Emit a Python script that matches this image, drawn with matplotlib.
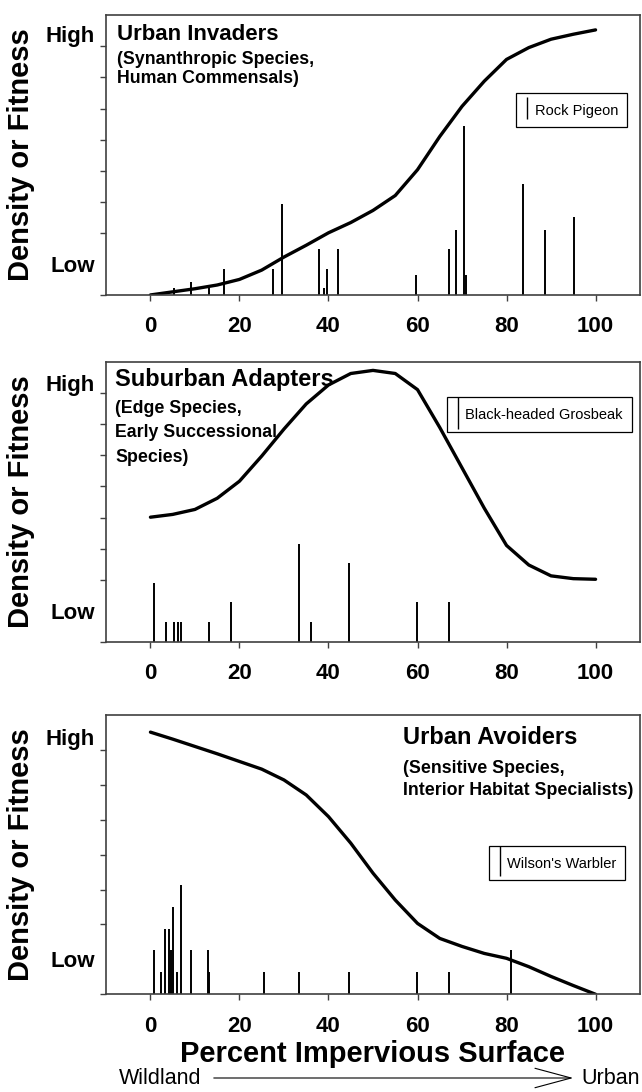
import matplotlib
matplotlib.use("Agg")
import matplotlib.pyplot as plt
from matplotlib.lines import Line2D
from matplotlib.patches import FancyArrowPatch

plt.rcParams['font.family'] = ['Liberation Sans', 'DejaVu Sans']

# percent impervious surface where the response curves were read
curve_x = [0, 5, 10, 15, 20, 25, 30, 35, 40, 45, 50, 55, 60, 65, 70, 75, 80, 85, 90, 95, 100]

invader_curve = [0, 0.1, 0.2, 0.32, 0.5, 0.8, 1.22, 1.6, 2.0, 2.33, 2.72, 3.2, 4.03,
                 5.1, 6.07, 6.88, 7.58, 7.96, 8.23, 8.39, 8.53]
adapter_curve = [4.01, 4.10, 4.26, 4.62, 5.17, 5.98, 6.85, 7.66, 8.27, 8.64, 8.74, 8.64,
                 8.12, 6.9, 5.6, 4.3, 3.1, 2.47, 2.12, 2.03, 2.01]
avoider_curve = [7.51, 7.31, 7.1, 6.89, 6.67, 6.45, 6.14, 5.71, 5.09, 4.33, 3.47, 2.7,
                 2.03, 1.6, 1.37, 1.17, 1.03, 0.79, 0.51, 0.25, 0]

# bird observations (vertical bars)
pigeon_x = [5.3, 9.2, 13.1, 16.5, 27.5, 29.5, 37.95, 38.9, 39.7, 42.2, 59.6, 67.0, 68.7,
            70.45, 71.0, 83.8, 88.7, 95.2]
pigeon_h = [0.22, 0.43, 0.22, 0.84, 0.83, 2.92, 1.47, 0.21, 0.84, 1.47, 0.63, 1.47, 2.09,
            5.43, 0.63, 3.57, 2.1, 2.5]

grosbeak_x = [0.9, 3.44, 5.24, 6.29, 6.89, 13.25, 18.1, 33.4, 36.1, 44.6, 59.8, 67.1]
grosbeak_h = [1.88, 0.62, 0.62, 0.62, 0.62, 0.62, 1.27, 3.15, 0.63, 2.53, 1.27, 1.27]

warbler_x = [0.9, 2.47, 3.37, 4.19, 4.64, 5.16, 5.99, 6.89, 9.2, 12.87, 13.25, 25.6,
             33.4, 44.6, 59.8, 67.1, 80.9]
warbler_h = [1.27, 0.64, 1.88, 1.88, 1.27, 2.51, 0.64, 3.13, 1.27, 1.27, 0.64, 0.63,
             0.63, 0.63, 0.63, 0.63, 1.26]

titles = ["Urban Invaders", "Suburban Adapters", "Urban Avoiders"]
subtitles = [["(Synanthropic Species,", "Human Commensals)"],
             ["(Edge Species,", "Early Successional", "Species)"],
             ["(Sensitive Species,", "Interior Habitat Specialists)"]]
legend_labels = ["Rock Pigeon", "Black-headed Grosbeak", "Wilson's Warbler"]
x_ticks = [0, 20, 40, 60, 80, 100]


def draw_panel(ax, curve, bar_x, bar_h, ytop, high_pos, title, subs, title_xy, sub_ys,
               title_size, label, leg_anchor, mark_size):
    ax.vlines(bar_x, 0, bar_h, color='black', linewidth=1.4)
    ax.plot(curve_x, curve, color='black', linewidth=2.4, solid_capstyle='round',
            solid_joinstyle='round')
    ax.set_xlim(-10, 110)
    ax.set_ylim(0, ytop)

    ax.set_xticks(x_ticks)
    ax.set_xticklabels([str(t) for t in x_ticks], fontsize=16, fontweight='bold')
    ax.tick_params(axis='x', direction='out', length=4, width=1, pad=11.5, color='#404040')

    ax.set_yticks([1, high_pos])
    ax.set_yticklabels(["Low", "High"], fontsize=16, fontweight='bold')
    ax.set_yticks(range(0, ytop), minor=True)
    ax.tick_params(axis='y', which='major', length=0, pad=8)
    ax.tick_params(axis='y', which='minor', direction='out', length=4, width=1, color='#404040')

    for sp in ax.spines.values():
        sp.set_color('#404040')
        sp.set_linewidth(1.2)

    ax.text(title_xy[0], title_xy[1], title, transform=ax.transAxes, fontsize=title_size,
            fontweight='bold', va='center', ha='left')
    for line, yy in zip(subs, sub_ys):
        ax.text(title_xy[0], yy, line, transform=ax.transAxes, fontsize=12.8,
                fontweight='bold', va='center', ha='left')

    handle = Line2D([0], [0], color='black', linestyle='none', marker='|',
                    markersize=mark_size, markeredgewidth=1.0)
    leg = ax.legend(handles=[handle], labels=[label], loc='upper right',
                    bbox_to_anchor=leg_anchor, borderaxespad=0, fontsize=10.5,
                    fancybox=False, framealpha=1, edgecolor='black',
                    handlelength=0.3, handletextpad=0.35, borderpad=0.6,
                    handleheight=1.4)
    leg.get_frame().set_linewidth(0.9)


def main():
    fig = plt.figure(figsize=(6.42, 10.92), dpi=100)

    ax1 = fig.add_axes([0.165, 0.7299, 0.832, 0.2561])
    ax2 = fig.add_axes([0.165, 0.4124, 0.832, 0.2558])
    ax3 = fig.add_axes([0.165, 0.0895, 0.832, 0.2557])

    draw_panel(ax1, invader_curve, pigeon_x, pigeon_h, 9, 8.4, titles[0], subtitles[0],
               (0.02, 0.93), [0.841, 0.773], 16, legend_labels[0], (0.975, 0.722), 16)
    draw_panel(ax2, adapter_curve, grosbeak_x, grosbeak_h, 9, 8.32, titles[1], subtitles[1],
               (0.017, 0.937), [0.833, 0.747, 0.661], 17, legend_labels[1], (0.984, 0.875), 23)
    draw_panel(ax3, avoider_curve, warbler_x, warbler_h, 8, 7.38, titles[2], subtitles[2],
               (0.556, 0.918), [0.81, 0.728], 17, legend_labels[2], (0.9715, 0.532), 22)

    # shared labels
    for ax in (ax1, ax2, ax3):
        box = ax.get_position()
        fig.text(21 / 642, (box.y0 + box.y1) / 2, "Density or Fitness", rotation=90,
                 fontsize=21, fontweight='bold', ha='center', va='center')

    fig.text(373 / 642, 1 - 1054 / 1092, "Percent Impervious Surface", fontsize=21,
             fontweight='bold', ha='center', va='center')
    yy = 1 - 1078 / 1092
    fig.text(119 / 642, yy, "Wildland", fontsize=15.5, ha='left', va='center')
    fig.text(640 / 642, yy, "Urban", fontsize=15.5, ha='right', va='center')
    fig.add_artist(FancyArrowPatch(
        (211 / 642, yy), (576 / 642, yy), transform=fig.transFigure,
        arrowstyle='->,head_length=2.6,head_width=0.7', mutation_scale=10,
        linewidth=0.8, color='black'))

    fig.savefig("out.png", dpi=100)


if __name__ == "__main__":
    main()
